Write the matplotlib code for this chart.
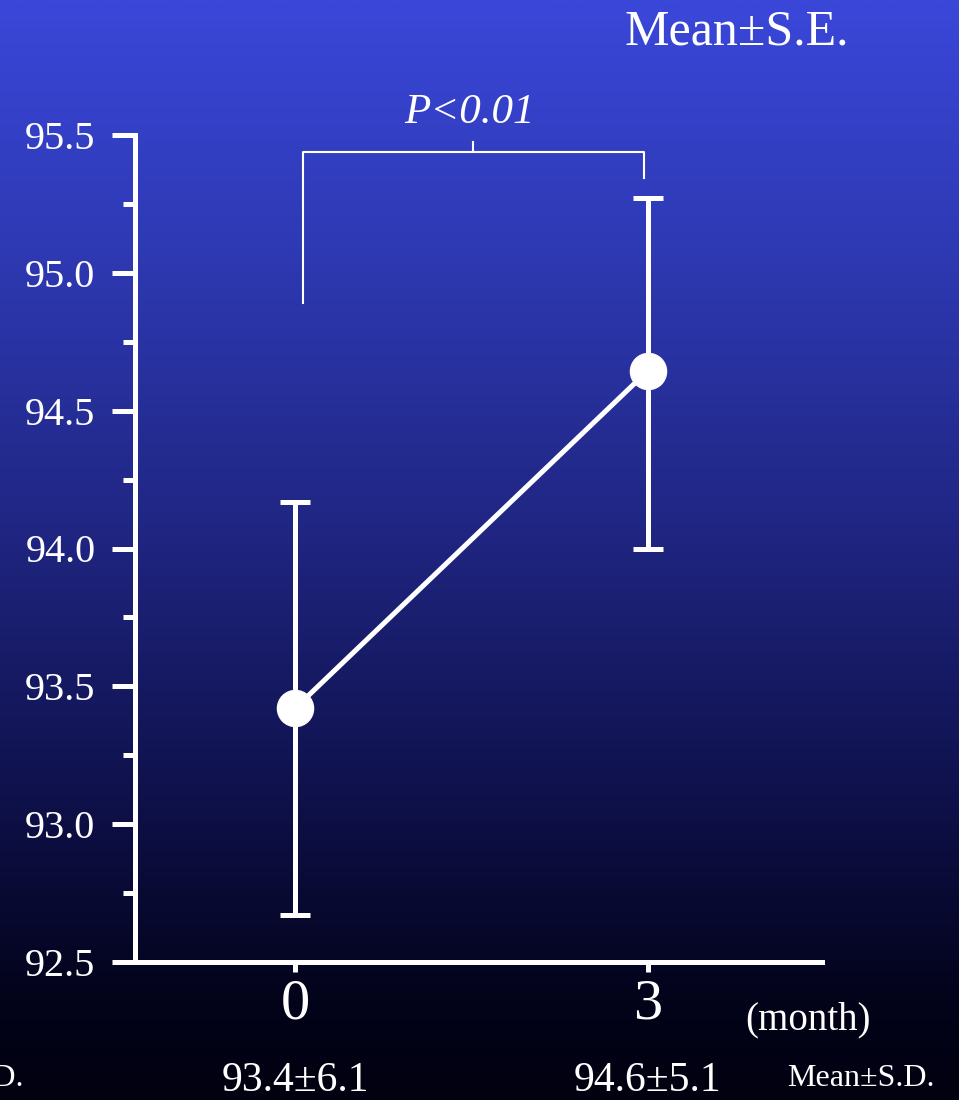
import numpy as np
from matplotlib import pyplot as plt
from matplotlib.colors import LinearSegmentedColormap

# data
months = [0, 3]
means = [93.42, 94.645]
se_low = [0.75, 0.645]
se_high = [0.75, 0.625]
sd_means = [93.4, 94.6]
sd_values = [6.1, 5.1]
y_ticks = [92.5, 93.0, 93.5, 94.0, 94.5, 95.0, 95.5]
p_text = "P<0.01"

W, H = 959, 1100
WHITE = "white"
SERIF = "Liberation Serif"

fig = plt.figure(figsize=(W / 100, H / 100), dpi=100)

# background gradient, top blue -> bottom near black
bg = fig.add_axes([0, 0, 1, 1])
bg.axis("off")
cmap = LinearSegmentedColormap.from_list(
    "bg",
    [(0.0, "#3a47d9"), (0.245, "#2d38b0"), (0.49, "#1f2580"),
     (0.736, "#0e1048"), (0.91, "#03031a"), (1.0, "#010110")],
)
bg.imshow(np.linspace(0, 1, 512).reshape(-1, 1), aspect="auto", cmap=cmap,
          extent=[0, 1, 0, 1])
bg.set_xlim(0, 1)
bg.set_ylim(0, 1)

ax = fig.add_axes([135 / W, 1 - 962 / H, (822 - 135) / W, (962 - 135) / H])
ax.patch.set_alpha(0)

ax.errorbar(months, means, yerr=[se_low, se_high], color=WHITE, lw=3.6,
            marker="o", ms=26, elinewidth=3.6, capsize=11, capthick=3.6)

ax.set_xlim(-1.36, 4.48)
ax.set_ylim(92.5, 95.5)
ax.set_xticks(months)
ax.set_xticklabels([str(m) for m in months])
ax.set_yticks(y_ticks)
ax.set_yticklabels([f"{v:.1f}" for v in y_ticks])
ax.set_yticks(np.arange(92.75, 95.5, 0.5), minor=True)

for side in ["top", "right"]:
    ax.spines[side].set_visible(False)
for side in ["left", "bottom"]:
    ax.spines[side].set_color(WHITE)
    ax.spines[side].set_linewidth(3.6)

ax.tick_params(axis="y", which="major", length=16.5, width=3.6, color=WHITE,
               labelcolor=WHITE, labelsize=29, pad=12)
ax.tick_params(axis="y", which="minor", length=9, width=3.6, color=WHITE)
ax.tick_params(axis="x", length=7, width=3.6, color=WHITE, labelcolor=WHITE,
               labelsize=42, pad=5)
for lab in ax.get_xticklabels() + ax.get_yticklabels():
    lab.set_family(SERIF)

# significance bracket
ax.plot([0.068, 0.068, 2.97, 2.97], [94.89, 95.438, 95.438, 95.344],
        color=WHITE, lw=1.5, clip_on=False)
ax.plot([1.51, 1.51], [95.438, 95.475], color=WHITE, lw=1.5, clip_on=False)
ax.text(1.48, 95.58, p_text, color=WHITE, fontsize=31, style="italic",
        family=SERIF, ha="center", va="center", clip_on=False)

fig.text(737 / W, 1 - 32 / H, "Mean±S.E.", color=WHITE, fontsize=36,
         family=SERIF, ha="center", va="center")
fig.text(808 / W, 1 - 1020 / H, "(month)", color=WHITE, fontsize=28,
         family=SERIF, ha="center", va="center")

# mean +- SD row under the axis
for m, mu, sd in zip(months, sd_means, sd_values):
    x = ax.transData.transform((m, 0))[0] / W
    fig.text(x, 1 - 1081 / H, f"{mu:.1f}±{sd:.1f}", color=WHITE, fontsize=30,
             family=SERIF, ha="center", va="center")
fig.text(861 / W, 1 - 1079 / H, "Mean±S.D.", color=WHITE, fontsize=23,
         family=SERIF, ha="center", va="center")
fig.text(24 / W, 1 - 1079 / H, "Mean±S.D.", color=WHITE, fontsize=23,
         family=SERIF, ha="right", va="center")

fig.savefig("out.png", dpi=100)
